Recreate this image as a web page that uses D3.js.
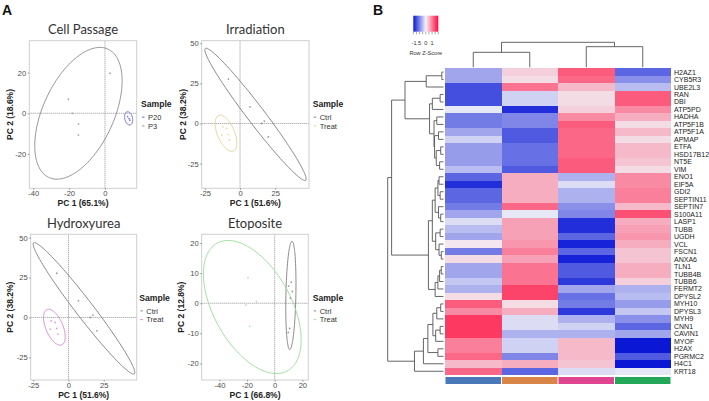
<!DOCTYPE html>
<html><head><meta charset="utf-8">
<script src="https://cdn.jsdelivr.net/npm/d3@7"></script>
<style>body{margin:0;background:#fff}svg{display:block}</style>
</head><body><svg id="c" width="709" height="401"></svg>
<script>
// ================= DATA =================
// Panel A – PCA scores [PC1, PC2]
const cpP20 = [[12.6,-1.6],[13.4,-2.6],[13.9,-3.4]];
const cpP3  = [[2.8,19.7],[-20.4,6.9],[-18.2,0],[-14.8,-5.3],[-14.8,-10.7]];
// ellipses: [cx, cy, ux, uy, vx, vy] (conjugate semi-diameters, data units)
const cpEllP20 = [13.2,-2.5,-0.55,3.25,2.2,0];
const cpEllP3  = [-14.8,0,12,32.4,21.2,0];
const cpXTicks = [-40,-20,0], cpYTicks = [-20,0,20];
const cpXDom = [-42.2,17.7], cpYDom = [-36.9,35.7];

const irCtrl  = [[-8.3,27.7],[7.1,10.4],[15.4,0],[17.3,1.5],[20.1,-8.4]];
const irTreat = [[-12.3,-2.1],[-9.5,-3.1],[-13,-7.3],[-8.3,-6.9],[-7.6,-10.4]];
const irEllCtrl  = [11,5.7,-35.2,41.2,7.8,0];
const irEllTreat = [-10,-6.1,-4.1,11.25,6.5,0];
const irXTicks = [-25,0,25], irYTicks = [-25,0,25,50];
const irXDom = [-27.3,49.1], irYDom = [-40.4,51.6];

const hyCtrl  = [[-8.3,27.7],[7.1,10.4],[15.4,0],[17.3,1.5],[20.1,-8.4]];
const hyTreat = [[-12.3,-2.1],[-9.5,-3.1],[-13,-7.3],[-8.3,-6.9],[-7.6,-10.4]];
const hyEllCtrl  = [11,5.7,-35.2,41.2,7.8,0];
const hyEllTreat = [-10,-6.1,-4.1,11.25,6.5,0];
const hyXTicks = [-25,0,25], hyYTicks = [-25,0,25,50];
const hyXDom = [-26.8,48.4], hyYDom = [-39.2,52.1];

const etCtrl  = [[12,7],[10.1,5.7],[12.8,3.9],[11.3,1.7],[10.8,-8.4],[9.9,-9.7]];
const etTreat = [[-19.3,8.5],[-13.2,0.6],[-20.9,-0.6],[-18,-7.7]];
const etEllCtrl  = [11.7,2.6,0.8,18.0,3.6,0];
const etEllTreat = [-16.2,-1.26,-17.5,22.1,30.7,0];
const etXTicks = [-40,-20,0,20], etYTicks = [-20,-10,0,10,20];
const etXDom = [-52.8,24.3], etYDom = [-25.5,22.9];

// Panel B – heatmap
const genes = ["H2AZ1","CYB5R3","UBE2L3","RAN","DBI","ATP5PD","HADHA","ATP5F1B","ATP5F1A","APMAP","ETFA","HSD17B12","NT5E","VIM","ENO1","EIF5A","GDI2","SEPTIN11","SEPTIN7","S100A11","LASP1","TUBB","UGDH","VCL","FSCN1","ANXA6","TLN1","TUBB4B","TUBB6","FERMT2","DPYSL2","MYH10","DPYSL3","MYH9","CNN1","CAVIN1","MYOF","H2AX","PGRMC2","H4C1","KRT18"];
const sampleGroups = ["G1","G2","G3","G4"];
const groupColors = ["#4a78b8","#d98548","#df4590","#22a858"];
// row z-scores, one array per column
const zG1 = [-0.7,-0.7,-1.5,-1.5,-1.5,-0.1,-1.1,-1.1,-0.7,-0.3,-0.8,-0.8,-0.8,-0.5,-1.3,-1.8,-1.3,-1.3,-1.1,-0.7,-0.2,-0.5,-0.7,0.1,-1.1,0.2,-0.7,-0.7,-0.4,-0.6,0.2,1.3,0.9,1.6,1.6,1.6,1.0,1.0,1.2,0.5,1.2];
const zG2 = [0.3,0.2,1.1,-0.3,-0.3,-1.8,-1.0,-1.0,-1.4,-1.4,-1.2,-1.2,-1.2,-1.4,0.6,0.6,0.6,0.6,1.2,-0.1,0.7,0.7,0.7,0.8,1.0,0.7,1.1,1.1,1.1,1.5,1.5,0.2,0.6,-0.2,-0.2,-0.6,-0.3,-0.3,-1.0,0.6,-1.3];
const zG3 = [1.3,1.2,0.5,0.2,0.2,0.3,0.9,1.3,1.2,1.2,1.2,1.2,1.3,1.3,-0.6,-0.2,-0.6,-0.6,-0.9,-1.0,-1.8,-1.8,-1.3,-1.9,-1.3,-1.9,-1.4,-1.4,-1.7,-0.7,-1.2,-1.1,-1.7,-0.6,-0.3,-0.6,0.5,0.5,0.5,0.4,-0.2];
const zG4 = [-1.3,-0.9,-0.5,1.3,1.3,0.9,0.6,0.2,0.5,0.2,0.5,0.5,0.4,0.2,0.9,0.9,1.0,1.0,0.5,1.4,0.6,0.7,0.8,0.6,0.4,0.4,0.6,0.6,0.3,-0.6,-0.5,-0.8,-0.4,-0.9,-1.3,-0.7,-2.0,-2.0,-1.4,-2.0,-0.1];
const keyTicks = [-2,-1.5,-1,-0.5,0,0.5,1,1.5,2];
const keyLabels = [-1.5,0,1];
// dendrograms: [height, left, right]; leaves = row/column index
const rowTree = [10,
  [9.3,
    [6.9,
      [3.1,[0.3,0,1],2],
      [2.5,
        [2.0,[0.6,3,4],5],
        [1.7,[1.2,6,7],[1.6,[0.9,8,9],[1.3,[0.5,10,11],[0.7,12,13]]]]]],
    [2.7,
      [2.0,
        [1.5,[1.0,[0.8,14,15],[0.6,16,17]],[0.9,18,[0.5,19,20]]],
        [1.4,[0.6,21,22],[0.8,23,[0.4,24,25]]]],
      [1.5,[1.0,[0.7,[0.4,26,27],28],29],30]]],
  [5.2,
    [3.6,
      [2.8,
        [1.9,[1.2,[0.5,31,32],33],[1.4,[0.6,34,35],36]],
        [1.0,37,38]],
      39],
    40]];
const colTree = [10,[6.0,0,1],[8.25,2,3]];

// ================= DRAW =================
const svg = d3.select("#c");
svg.append("rect").attr("width",709).attr("height",401).attr("fill","#fff");
const SANS = "'Liberation Sans', Arial, sans-serif";

svg.append("text").attr("x",2).attr("y",15).text("A")
  .attr("font-family",SANS).attr("font-weight","bold").attr("font-size",14).attr("fill","#111");
svg.append("text").attr("x",373).attr("y",15).text("B")
  .attr("font-family",SANS).attr("font-weight","bold").attr("font-size",14).attr("fill","#111");

const panels = [
 {title:"Cell Passage", xLab:"PC 1 (65.1%)", yLab:"PC 2 (18.6%)", groups:["P20","P3"], colors:["#5a5ad6","#8a8a8a"],
  pts:[cpP20,cpP3], ell:[cpEllP20,cpEllP3], xDom:cpXDom, yDom:cpYDom, xT:cpXTicks, yT:cpYTicks,
  box:[29.3,40.7,136.7,188.3], ty:34.3, xly:206, ylx:10.5, lx:141, ly:107},
 {title:"Irradiation", xLab:"PC 1 (51.6%)", yLab:"PC 2 (38.2%)", groups:["Ctrl","Treat"], colors:["#7a7a7a","#dccf88"],
  pts:[irCtrl,irTreat], ell:[irEllCtrl,irEllTreat], xDom:irXDom, yDom:irYDom, xT:irXTicks, yT:irYTicks,
  box:[201.7,40.7,309,188.3], ty:34.3, xly:206, ylx:183.5, lx:312.7, ly:107},
 {title:"Hydroxyurea", xLab:"PC 1 (51.6%)", yLab:"PC 2 (38.2%)", groups:["Ctrl","Treat"], colors:["#7a7a7a","#d77ccf"],
  pts:[hyCtrl,hyTreat], ell:[hyEllCtrl,hyEllTreat], xDom:hyXDom, yDom:hyYDom, xT:hyXTicks, yT:hyYTicks,
  box:[30.7,234.3,136.7,380], ty:228.3, xly:397.8, ylx:10.5, lx:139.3, ly:300.7},
 {title:"Etoposite", xLab:"PC 1 (66.8%)", yLab:"PC 2 (12.8%)", groups:["Ctrl","Treat"], colors:["#7a7a7a","#96dc96"],
  pts:[etCtrl,etTreat], ell:[etEllCtrl,etEllTreat], xDom:etXDom, yDom:etYDom, xT:etXTicks, yT:etYTicks,
  box:[201.7,234.3,308.3,380], ty:228.3, xly:397.8, ylx:181.5, lx:312.7, ly:300.7}
];

panels.forEach(p => {
  const [x0,y0,x1,y1] = p.box;
  const x = d3.scaleLinear().domain(p.xDom).range([x0,x1]);
  const y = d3.scaleLinear().domain(p.yDom).range([y1,y0]);
  const g = svg.append("g");
  // title
  g.append("text").attr("x",(x0+x1)/2).attr("y",p.ty).attr("text-anchor","middle")
    .attr("font-family","Lato, 'Open Sans', sans-serif").attr("font-size",13).attr("fill","#333").text(p.title);
  // zero lines
  g.append("line").attr("x1",x(0)).attr("x2",x(0)).attr("y1",y0).attr("y2",y1)
    .attr("stroke","#666").attr("stroke-width",0.7).attr("stroke-dasharray","1,1");
  g.append("line").attr("x1",x0).attr("x2",x1).attr("y1",y(0)).attr("y2",y(0))
    .attr("stroke","#666").attr("stroke-width",0.7).attr("stroke-dasharray","1,1");
  // ellipses
  const ts = d3.range(0,Math.PI*2,Math.PI/90);
  const line = d3.line().curve(d3.curveLinearClosed);
  p.ell.forEach((e,i) => {
    const pts = ts.map(t => [x(e[0]+e[2]*Math.cos(t)+e[4]*Math.sin(t)), y(e[1]+e[3]*Math.cos(t)+e[5]*Math.sin(t))]);
    g.append("path").attr("d",line(pts)).attr("fill","none").attr("stroke",p.colors[i]).attr("stroke-width",0.9);
  });
  // points
  p.pts.forEach((arr,i) => {
    g.selectAll(null).data(arr).enter().append("circle")
      .attr("cx",d=>x(d[0])).attr("cy",d=>y(d[1])).attr("r",0.9)
      .attr("fill",p.colors[i]).attr("opacity",0.75);
  });
  // border
  g.append("rect").attr("x",x0).attr("y",y0).attr("width",x1-x0).attr("height",y1-y0)
    .attr("fill","none").attr("stroke","#cfcfcf").attr("stroke-width",1);
  // axes
  const ax = g.append("g").attr("transform",`translate(0,${y1})`)
    .call(d3.axisBottom(x).tickValues(p.xT).tickSize(1.5).tickPadding(1).tickFormat(d3.format("d")));
  const ay = g.append("g").attr("transform",`translate(${x0},0)`)
    .call(d3.axisLeft(y).tickValues(p.yT).tickSize(1.5).tickPadding(1.5).tickFormat(d3.format("d")));
  [ax,ay].forEach(a => {
    a.select(".domain").remove();
    a.selectAll(".tick line").attr("stroke","#555").attr("stroke-width",0.6);
    a.selectAll(".tick text").attr("font-family",SANS).attr("font-size",7.6).attr("fill","#4d4d4d");
  });
  ax.selectAll(".tick text").text(d => d < 0 ? "-" + Math.abs(d) : d);
  ay.selectAll(".tick text").text(d => d < 0 ? "-" + Math.abs(d) : d);
  // axis titles
  g.append("text").attr("x",(x0+x1)/2).attr("y",p.xly).attr("text-anchor","middle")
    .attr("font-family",SANS).attr("font-weight","bold").attr("font-size",8.5).attr("fill","#222").text(p.xLab);
  g.append("text").attr("transform",`translate(${p.ylx},${(y0+y1)/2}) rotate(-90)`)
    .attr("text-anchor","middle").attr("dy","0.35em")
    .attr("font-family",SANS).attr("font-weight","bold").attr("font-size",8.5).attr("fill","#222").text(p.yLab);
  // legend
  g.append("text").attr("x",p.lx).attr("y",p.ly).text("Sample")
    .attr("font-family",SANS).attr("font-weight","bold").attr("font-size",8.6).attr("fill","#222");
  p.groups.forEach((gr,i) => {
    const cy = p.ly + 10.2 + i*8.7;
    g.append("line").attr("x1",p.lx+1).attr("x2",p.lx+3.5).attr("y1",cy).attr("y2",cy)
      .attr("stroke",p.colors[i]).attr("stroke-width",0.9);
    g.append("text").attr("x",p.lx+7).attr("y",cy).attr("dy","0.35em").text(gr)
      .attr("font-family",SANS).attr("font-size",7.5).attr("fill","#333");
  });
});

// ---------- Heatmap ----------
const hmX0 = 445, hmX1 = 671, hmY0 = 68.3, hmY1 = 375;
const xb = d3.scaleBand().domain(sampleGroups).range([hmX0,hmX1]);
const yb = d3.scaleBand().domain(genes).range([hmY0,hmY1]);
const color = d3.scaleLinear().domain([-2,0,2]).range(["#0a18d6","#f3f3f8","#ff0a3c"]).clamp(true);
const zCols = [zG1,zG2,zG3,zG4];
const cells = [];
zCols.forEach((col,j) => col.forEach((v,i) => cells.push({g:sampleGroups[j], gene:genes[i], v})));
svg.append("g").attr("shape-rendering","crispEdges").selectAll("rect").data(cells).enter().append("rect")
  .attr("x",d=>xb(d.g)).attr("y",d=>yb(d.gene)).attr("width",xb.bandwidth()+0.3).attr("height",yb.bandwidth()+0.3)
  .attr("fill",d=>color(d.v));
// column colour bar
svg.append("g").selectAll("rect").data(sampleGroups).enter().append("rect")
  .attr("x",d=>xb(d)+0.5).attr("y",377).attr("width",xb.bandwidth()-1).attr("height",7)
  .attr("fill",(d,i)=>groupColors[i]);
// gene labels
svg.append("g").selectAll("text").data(genes).enter().append("text")
  .attr("x",hmX1+3).attr("y",d=>yb(d)+yb.bandwidth()/2).attr("dy","0.36em")
  .attr("font-family",SANS).attr("font-size",7).attr("fill","#222").text(d=>d);

// dendrograms
function toNode(a){ return Array.isArray(a) ? {h:a[0], children:[toNode(a[1]),toNode(a[2])]} : {leaf:a, h:0}; }
const dStroke = "#555";
// row dendrogram
const rRoot = d3.hierarchy(toNode(rowTree));
const rx = d3.scaleLinear().domain([0,10]).range([443.5,387.7]);
rRoot.eachAfter(n => { n.pos = n.children ? (n.children[0].pos+n.children[1].pos)/2 : yb(genes[n.data.leaf])+yb.bandwidth()/2; });
const rg = svg.append("g").attr("stroke",dStroke).attr("stroke-width",0.9).attr("fill","none");
rRoot.each(n => {
  if (!n.children) return;
  const X = rx(n.data.h);
  rg.append("line").attr("x1",X).attr("x2",X).attr("y1",n.children[0].pos).attr("y2",n.children[1].pos);
  n.children.forEach(c => rg.append("line").attr("x1",X).attr("x2",rx(c.data.h)).attr("y1",c.pos).attr("y2",c.pos));
});
// column dendrogram
const cRoot = d3.hierarchy(toNode(colTree));
const cy = d3.scaleLinear().domain([0,10]).range([67.3,42.3]);
cRoot.eachAfter(n => { n.pos = n.children ? (n.children[0].pos+n.children[1].pos)/2 : xb(sampleGroups[n.data.leaf])+xb.bandwidth()/2; });
cRoot.each(n => {
  if (!n.children) return;
  const Y = cy(n.data.h);
  rg.append("line").attr("y1",Y).attr("y2",Y).attr("x1",n.children[0].pos).attr("x2",n.children[1].pos);
  n.children.forEach(c => rg.append("line").attr("y1",Y).attr("y2",cy(c.data.h)).attr("x1",c.pos).attr("x2",c.pos));
});

// colour key
const kx = d3.scaleLinear().domain([-2,2]).range([413.3,438.3]);
const grad = svg.append("defs").append("linearGradient").attr("id","kg");
d3.range(-2,2.01,0.25).forEach(v => grad.append("stop").attr("offset",((v+2)/4*100)+"%").attr("stop-color",color(v)));
svg.append("rect").attr("x",kx(-2)).attr("y",15.7).attr("width",kx(2)-kx(-2)).attr("height",16).attr("fill","url(#kg)");
svg.append("g").selectAll("line").data(keyTicks).enter().append("line")
  .attr("x1",d=>kx(d)).attr("x2",d=>kx(d)).attr("y1",31.7).attr("y2",34.3).attr("stroke","#555").attr("stroke-width",0.5);
svg.append("g").selectAll("text").data(keyLabels).enter().append("text")
  .attr("x",d=>kx(d)).attr("y",44.5).attr("text-anchor","middle")
  .attr("font-family",SANS).attr("font-size",5.6).attr("fill","#333").text(d=>d);
svg.append("text").attr("x",425.8).attr("y",54.5).attr("text-anchor","middle")
  .attr("font-family",SANS).attr("font-size",5.6).attr("fill","#333").text("Row Z-Score");
</script></body></html>
